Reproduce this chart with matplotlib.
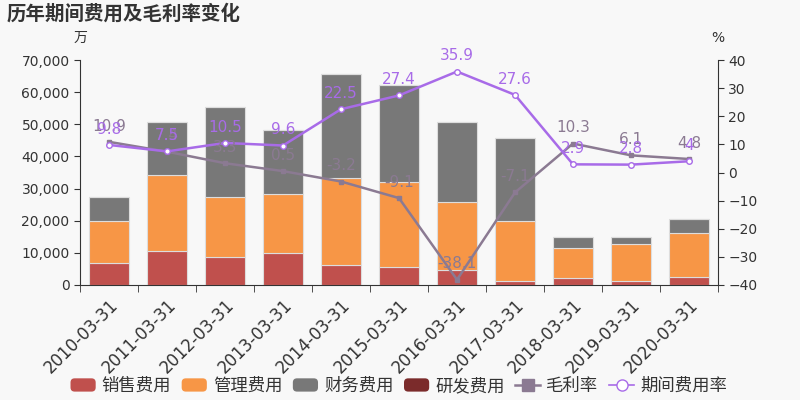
import matplotlib.pyplot as plt
import numpy as np
from matplotlib.lines import Line2D
from matplotlib.patches import FancyBboxPatch, Rectangle
from matplotlib.legend_handler import HandlerPatch

plt.rcParams['font.family'] = ['DejaVu Sans', 'Noto Sans CJK SC']

dates = ['2010-03-31', '2011-03-31', '2012-03-31', '2013-03-31', '2014-03-31',
         '2015-03-31', '2016-03-31', '2017-03-31', '2018-03-31', '2019-03-31',
         '2020-03-31']
# 万元
sales_fee = [6900, 10700, 8800, 10050, 6300, 5700, 4700, 1300, 2300, 1300, 2600]
admin_fee = [13000, 23500, 18500, 18250, 27000, 26300, 21000, 18600, 9300, 11500, 13500]
finance_fee = [7400, 16500, 28200, 19800, 32400, 30300, 24900, 25700, 3200, 2000, 4400]
rd_fee = [0, 0, 0, 0, 0, 0, 0, 0, 0, 0, 0]
# %
gross_margin = [10.9, 7.4, 3.3, 0.5, -3.2, -9.1, -38.1, -7.1, 10.3, 6.1, 4.8]
period_rate = [9.8, 7.5, 10.5, 9.6, 22.5, 27.4, 35.9, 27.6, 2.9, 2.8, 4]

c_sales = '#c0504d'
c_admin = '#f79646'
c_fin = '#787878'
c_rd = '#7b2b2b'
c_gm = '#8b7a92'
c_pr = '#a86be8'
txt = '#333333'


class RoundPatch(HandlerPatch):
    def create_artists(self, legend, orig_handle, xdescent, ydescent,
                       width, height, fontsize, trans):
        p = FancyBboxPatch((-xdescent, -ydescent), width, height,
                           boxstyle='round,pad=0,rounding_size=3',
                           facecolor=orig_handle.get_facecolor(),
                           edgecolor='none', transform=trans)
        return [p]


fig = plt.figure(figsize=(8, 4), dpi=100, facecolor='#f8f8f8')
ax = fig.add_axes([0.1, 0.2875, 0.7975, 0.5625])
ax.set_facecolor('#f8f8f8')

x = np.arange(len(dates))
w = 0.69
s = np.array(sales_fee)
a = np.array(admin_fee)
f = np.array(finance_fee)
r = np.array(rd_fee)
ec = '#dddddd'
ax.bar(x, s, w, color=c_sales, edgecolor=ec, linewidth=0.8)
ax.bar(x, a, w, bottom=s, color=c_admin, edgecolor=ec, linewidth=0.8)
ax.bar(x, f, w, bottom=s + a, color=c_fin, edgecolor=ec, linewidth=0.8)
ax.bar(x, r, w, bottom=s + a + f, color=c_rd, edgecolor=ec, linewidth=0.8)

ax.set_xlim(-0.5, len(dates) - 0.5)
ax.set_ylim(0, 70000)
ax.set_yticks(range(0, 70001, 10000))
ax.set_yticklabels([f'{v:,}' for v in range(0, 70001, 10000)])
ax.set_xticks(x)
ax.set_xticklabels(dates, rotation=45, ha='right', rotation_mode='anchor', fontsize=12, color=txt)
ax.set_xticks(np.arange(-0.5, len(dates), 1), minor=True)
ax.tick_params(axis='x', which='major', length=0, pad=8)
ax.tick_params(axis='x', which='minor', length=5, color=txt)
ax.tick_params(axis='y', labelsize=10, colors=txt, length=4)
for sp in ['top', 'right']:
    ax.spines[sp].set_visible(False)
ax.spines['left'].set_color(txt)
ax.spines['bottom'].set_color(txt)

ax2 = ax.twinx()
ax2.set_ylim(-40, 40)
ax2.set_yticks(range(-40, 41, 10))
ax2.tick_params(axis='y', labelsize=10, colors=txt, length=4)
for sp in ['top', 'left', 'bottom']:
    ax2.spines[sp].set_visible(False)
ax2.spines['right'].set_color(txt)

ax2.plot(x, gross_margin, color=c_gm, linewidth=1.8, marker='s', markersize=3.5,
         markerfacecolor=c_gm, markeredgecolor=c_gm)
ax2.plot(x, period_rate, color=c_pr, linewidth=1.8, marker='o', markersize=4,
         markerfacecolor='white', markeredgecolor=c_pr)

for i in range(len(dates)):
    ax2.annotate(f'{gross_margin[i]:g}', (x[i], gross_margin[i]), xytext=(0, 6),
                 textcoords='offset points', ha='center', va='bottom', fontsize=11, color=c_gm)
    ax2.annotate(f'{period_rate[i]:g}', (x[i], period_rate[i]), xytext=(0, 6),
                 textcoords='offset points', ha='center', va='bottom', fontsize=11, color=c_pr)

fig.text(0.008, 0.965, '历年期间费用及毛利率变化', fontsize=14, fontweight='bold',
         color=txt, va='center', ha='left')
fig.text(0.1, 0.905, '万', fontsize=10, color=txt, ha='center', va='center')
fig.text(0.8975, 0.905, '%', fontsize=10, color=txt, ha='center', va='center')

handles = [
    Rectangle((0, 0), 1, 1, facecolor=c_sales),
    Rectangle((0, 0), 1, 1, facecolor=c_admin),
    Rectangle((0, 0), 1, 1, facecolor=c_fin),
    Rectangle((0, 0), 1, 1, facecolor=c_rd),
    Line2D([], [], color=c_gm, linewidth=1.8, marker='s', markersize=8,
           markerfacecolor=c_gm),
    Line2D([], [], color=c_pr, linewidth=1.2, marker='o', markersize=8,
           markerfacecolor='white', markeredgecolor=c_pr),
]
labels = ['销售费用', '管理费用', '财务费用', '研发费用', '毛利率', '期间费用率']
fig.legend(handles, labels, loc='center', bbox_to_anchor=(0.4985, 0.035), ncol=6,
           frameon=False, fontsize=12.5, handlelength=1.45, handleheight=0.8,
           handletextpad=0.35, columnspacing=0.6, labelcolor=txt,
           handler_map={Rectangle: RoundPatch()})

fig.savefig('out.png', dpi=100, facecolor=fig.get_facecolor())
